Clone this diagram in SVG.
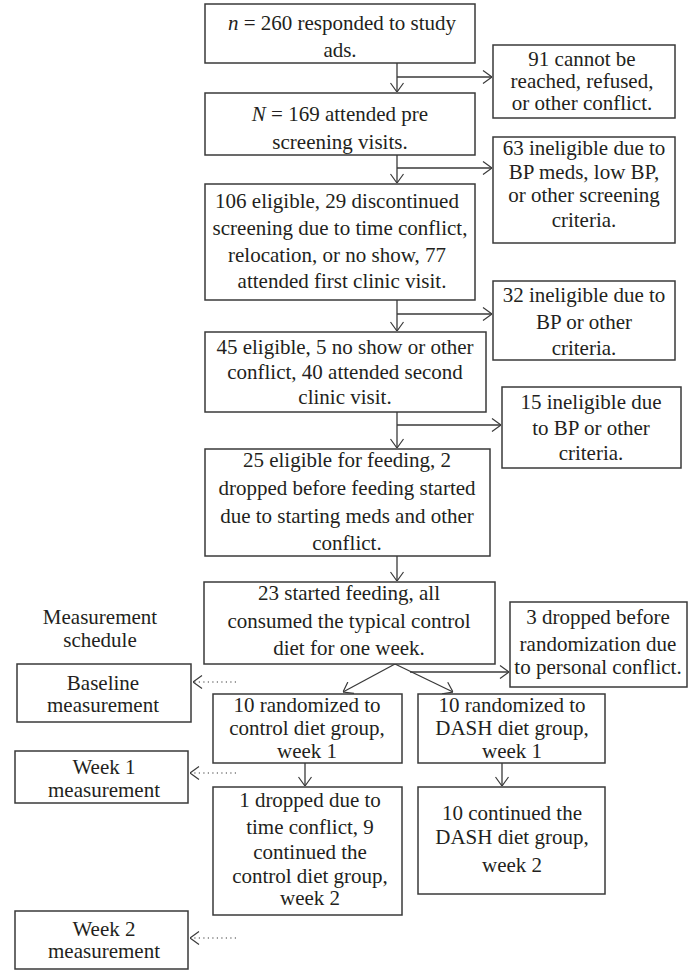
<svg xmlns="http://www.w3.org/2000/svg" width="688" height="970" viewBox="0 0 688 970">
<style>
.box{fill:#fff;stroke:#3a3a3a;stroke-width:1.5}
text{font-family:'Liberation Serif','Times New Roman',serif;font-size:21px;fill:#231f20;text-anchor:middle}
.ln{stroke:#3a3a3a;stroke-width:1.3;fill:none}
.dot{stroke:#3a3a3a;stroke-width:1.2;fill:none;stroke-dasharray:1.2 3.3}
.it{font-style:italic}
</style>
<defs>
<marker id="arr" viewBox="0 0 10 14" refX="10" refY="7" markerWidth="10" markerHeight="14" markerUnits="userSpaceOnUse" orient="auto">
<path d="M1,0.5 L10,7 L1,13.5" fill="none" stroke="#3a3a3a" stroke-width="1.2"/>
</marker>
</defs>
<rect width="688" height="970" fill="#fff"/>
<g id="connectors">
<path class="ln" d="M397,63 V92" marker-end="url(#arr)"/>
<path class="ln" d="M397,77 H492" marker-end="url(#arr)"/>
<path class="ln" d="M397,155 V183" marker-end="url(#arr)"/>
<path class="ln" d="M397,168 H492" marker-end="url(#arr)"/>
<path class="ln" d="M397,300 V331" marker-end="url(#arr)"/>
<path class="ln" d="M397,314 H492" marker-end="url(#arr)"/>
<path class="ln" d="M397,412 V448" marker-end="url(#arr)"/>
<path class="ln" d="M397,425 H501" marker-end="url(#arr)"/>
<path class="ln" d="M397,556 V581" marker-end="url(#arr)"/>
<path class="ln" d="M395,664 L343,692" marker-end="url(#arr)"/>
<path class="ln" d="M395,664 L453,692" marker-end="url(#arr)"/>
<path class="ln" d="M410,672 H509" marker-end="url(#arr)"/>
<path class="ln" d="M305,763 V786" marker-end="url(#arr)"/>
<path class="ln" d="M502,763 V786" marker-end="url(#arr)"/>
<path class="dot" d="M236,682 H193" marker-end="url(#arr)"/>
<path class="dot" d="M236,773 H190" marker-end="url(#arr)"/>
<path class="dot" d="M236,938 H190" marker-end="url(#arr)"/>
</g>
<g id="n1"><rect class="box" x="205" y="4" width="270" height="59"/>
<text x="342" y="30"><tspan class="it">n</tspan> = 260 responded to study</text>
<text x="340" y="57">ads.</text></g>
<g id="n2"><rect class="box" x="205" y="93" width="270" height="62"/>
<text x="340" y="121"><tspan class="it">N</tspan> = 169 attended pre</text>
<text x="340" y="149">screening visits.</text></g>
<g id="n3"><rect class="box" x="493" y="45" width="182" height="73"/>
<text x="582" y="66">91 cannot be</text>
<text x="582" y="88">reached, refused,</text>
<text x="582" y="110">or other conflict.</text></g>
<g id="n4"><rect class="box" x="493" y="137" width="182" height="106"/>
<text x="584" y="155">63 ineligible due to</text>
<text x="584" y="179">BP meds, low BP,</text>
<text x="584" y="202">or other screening</text>
<text x="584" y="227">criteria.</text></g>
<g id="n5"><rect class="box" x="205" y="184" width="270" height="116"/>
<text x="337" y="208">106 eligible, 29 discontinued</text>
<text x="340" y="235">screening due to time conflict,</text>
<text x="337" y="262">relocation, or no show, 77</text>
<text x="342" y="288">attended first clinic visit.</text></g>
<g id="n6"><rect class="box" x="493" y="281" width="182" height="79"/>
<text x="584" y="302">32 ineligible due to</text>
<text x="584" y="329">BP or other</text>
<text x="584" y="355">criteria.</text></g>
<g id="n7"><rect class="box" x="205" y="332" width="281" height="80"/>
<text x="345" y="354">45 eligible, 5 no show or other</text>
<text x="345" y="379">conflict, 40 attended second</text>
<text x="345" y="404">clinic visit.</text></g>
<g id="n8"><rect class="box" x="502" y="387" width="179" height="81"/>
<text x="591" y="409">15 ineligible due</text>
<text x="591" y="435">to BP or other</text>
<text x="591" y="460">criteria.</text></g>
<g id="n9"><rect class="box" x="205" y="449" width="285" height="107"/>
<text x="347" y="467">25 eligible for feeding, 2</text>
<text x="347" y="495">dropped before feeding started</text>
<text x="347" y="523">due to starting meds and other</text>
<text x="347" y="550">conflict.</text></g>
<g id="n10"><rect class="box" x="204" y="582" width="291" height="82"/>
<text x="349" y="600">23 started feeding, all</text>
<text x="349" y="628">consumed the typical control</text>
<text x="349" y="655">diet for one week.</text></g>
<g id="n11"><rect class="box" x="510" y="602" width="177" height="85"/>
<text x="598" y="624">3 dropped before</text>
<text x="598" y="651">randomization due</text>
<text x="598" y="674">to personal conflict.</text></g>
<g id="n12"><text x="100" y="624">Measurement</text>
<text x="100" y="647">schedule</text></g>
<g id="n13"><rect class="box" x="17" y="664" width="174" height="58"/>
<text x="103" y="690">Baseline</text>
<text x="103" y="712">measurement</text></g>
<g id="n14"><rect class="box" x="213" y="694" width="189" height="69"/>
<text x="307" y="712">10 randomized to</text>
<text x="307" y="735">control diet group,</text>
<text x="307" y="758">week 1</text></g>
<g id="n15"><rect class="box" x="418" y="694" width="187" height="69"/>
<text x="512" y="712">10 randomized to</text>
<text x="512" y="735">DASH diet group,</text>
<text x="512" y="758">week 1</text></g>
<g id="n16"><rect class="box" x="15" y="751" width="173" height="52"/>
<text x="104" y="774">Week 1</text>
<text x="104" y="797">measurement</text></g>
<g id="n17"><rect class="box" x="213" y="787" width="189" height="128"/>
<text x="310" y="807">1 dropped due to</text>
<text x="310" y="834">time conflict, 9</text>
<text x="310" y="859">continued the</text>
<text x="310" y="883">control diet group,</text>
<text x="310" y="905">week 2</text></g>
<g id="n18"><rect class="box" x="418" y="787" width="187" height="107"/>
<text x="512" y="820">10 continued the</text>
<text x="512" y="844">DASH diet group,</text>
<text x="512" y="872">week 2</text></g>
<g id="n19"><rect class="box" x="15" y="911" width="173" height="58"/>
<text x="104" y="936">Week 2</text>
<text x="104" y="958">measurement</text></g>
</svg>
